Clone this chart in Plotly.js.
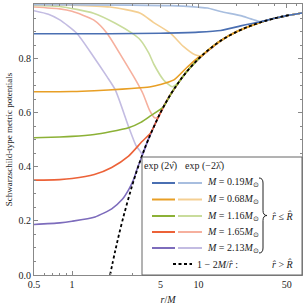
<!DOCTYPE html>
<html><head><meta charset="utf-8">
<script src="https://cdn.plot.ly/plotly-3.0.1.min.js"></script>
<style>body{margin:0;background:#fff}#g{width:305px;height:307px}</style>
</head><body><div id="g"></div>
<script>
// exterior 1 - 2M/r (dashed)
const rExt = [2, 2.2, 2.5, 3, 3.5, 4, 5, 6, 7, 8, 10, 12, 15, 20, 25, 30, 40, 52];
const vExt = [0, 0.091, 0.2, 0.333, 0.429, 0.5, 0.6, 0.667, 0.714, 0.75, 0.8, 0.833, 0.867, 0.9, 0.92, 0.933, 0.95, 0.962];

const masses = ["0.19", "0.68", "1.16", "1.65", "2.13"];

// exp(2nu) curves
const rNuBlue = [0.5, 1, 2, 5, 10, 15, 21.6, 26, 31, 40, 50, 66];
const vNuBlue = [0.893, 0.893, 0.893, 0.895, 0.899, 0.905, 0.922, 0.93, 0.937, 0.95, 0.96, 0.97];
const rNuOrange = [0.5, 1, 1.5, 2.5, 3.5, 4.2, 5, 6.4, 8.1, 9.8, 10.5, 12, 15, 20, 30, 40, 50, 66];
const vNuOrange = [0.678, 0.679, 0.682, 0.688, 0.693, 0.697, 0.705, 0.722, 0.768, 0.803, 0.81, 0.833, 0.867, 0.9, 0.933, 0.95, 0.96, 0.97];
const rNuGreen = [0.5, 0.8, 1, 1.5, 2, 2.8, 3.5, 4.2, 5.3, 6, 7, 8, 10, 12, 15, 20, 30, 40, 50, 66];
const vNuGreen = [0.508, 0.511, 0.513, 0.52, 0.53, 0.545, 0.565, 0.59, 0.623, 0.667, 0.714, 0.75, 0.8, 0.833, 0.867, 0.9, 0.933, 0.95, 0.96, 0.97];
const rNuRed = [0.5, 0.8, 1, 1.5, 2.06, 2.8, 3.58, 4.17, 4.4, 5, 6, 8, 10, 15, 20, 30, 40, 50, 66];
const vNuRed = [0.351, 0.353, 0.357, 0.372, 0.398, 0.44, 0.494, 0.525, 0.545, 0.6, 0.667, 0.75, 0.8, 0.867, 0.9, 0.933, 0.95, 0.96, 0.97];
const rNuPurple = [0.5, 0.8, 1, 1.52, 2.06, 2.5, 2.8, 3.05, 3.26, 3.47, 4, 5, 6, 8, 10, 15, 20, 30, 40, 50, 66];
const vNuPurple = [0.187, 0.193, 0.199, 0.215, 0.245, 0.28, 0.315, 0.35, 0.39, 0.424, 0.5, 0.6, 0.667, 0.75, 0.8, 0.867, 0.9, 0.933, 0.95, 0.96, 0.97];

// exp(-2lambda) curves
const rLaBlue = [0.5, 3, 6, 10, 11.8, 15, 21.6, 26, 31, 40, 50, 66];
const vLaBlue = [1.0, 0.999, 0.997, 0.991, 0.988, 0.975, 0.96, 0.948, 0.938, 0.95, 0.96, 0.97];
const rLaOrange = [0.5, 1, 2, 3.47, 4.4, 6, 7.6, 9.4, 10.5, 12, 15, 20, 30, 40, 50, 66];
const vLaOrange = [1.0, 0.999, 0.992, 0.969, 0.935, 0.895, 0.846, 0.815, 0.812, 0.833, 0.867, 0.9, 0.933, 0.95, 0.96, 0.97];
const rLaGreen = [0.5, 0.8, 1.48, 2.2, 2.98, 3.47, 4.05, 4.44, 5.3, 6.2, 7, 8, 10, 12, 15, 20, 30, 40, 50, 66];
const vLaGreen = [0.998, 0.994, 0.969, 0.932, 0.895, 0.87, 0.821, 0.78, 0.722, 0.697, 0.714, 0.75, 0.8, 0.833, 0.867, 0.9, 0.933, 0.95, 0.96, 0.97];
const rLaRed = [0.5, 0.8, 1, 1.48, 1.89, 2.56, 3.2, 3.65, 4.1, 4.5, 4.8, 5.2, 5.6, 6, 8, 10, 15, 20, 30, 40, 50, 66];
const vLaRed = [0.992, 0.985, 0.976, 0.944, 0.895, 0.796, 0.72, 0.67, 0.61, 0.582, 0.585, 0.615, 0.643, 0.667, 0.75, 0.8, 0.867, 0.9, 0.933, 0.95, 0.96, 0.97];
const rLaPurple = [0.5, 0.65, 0.8, 1.09, 1.48, 1.89, 2.2, 2.8, 3.2, 3.47, 3.6, 4, 5, 6, 8, 10, 15, 20, 30, 40, 50, 66];
const vLaPurple = [0.978, 0.965, 0.944, 0.895, 0.808, 0.734, 0.685, 0.549, 0.48, 0.457, 0.445, 0.5, 0.6, 0.667, 0.75, 0.8, 0.867, 0.9, 0.933, 0.95, 0.96, 0.97];

const xTickVals = [0.5, 1, 5, 10, 50];
const xTickText = ["0.5", "1", "5", "10", "50"];
const xMinorVals = [0.6, 0.7, 0.8, 0.9, 2, 3, 4, 6, 7, 8, 9, 20, 30, 40, 60];
const yTickVals = [0, 0.2, 0.4, 0.6, 0.8, 1.0];
const yTickText = ["0.0", "0.2", "0.4", "0.6", "0.8", "1.0"];

const dark = ["#4a6fb2", "#e89f25", "#8cb136", "#ec6238", "#7d6cbc"];
const light = ["#a8bedf", "#f4cf92", "#c9dc9c", "#f6b09e", "#c3bce2"];

const nu = [[rNuBlue, vNuBlue], [rNuOrange, vNuOrange], [rNuGreen, vNuGreen], [rNuRed, vNuRed], [rNuPurple, vNuPurple]];
const la = [[rLaBlue, vLaBlue], [rLaOrange, vLaOrange], [rLaGreen, vLaGreen], [rLaRed, vLaRed], [rLaPurple, vLaPurple]];

const traces = [];
for (let i = 4; i >= 0; i--) {
  traces.push({x: la[i][0], y: la[i][1], mode: "lines", line: {color: light[i], width: 1.6, shape: "spline", smoothing: 0.6}, showlegend: false, hoverinfo: "skip"});
  traces.push({x: nu[i][0], y: nu[i][1], mode: "lines", line: {color: dark[i], width: 1.6, shape: "spline", smoothing: 0.6}, showlegend: false, hoverinfo: "skip"});
}
traces.push({x: rExt, y: vExt, mode: "lines", line: {color: "#000", width: 1.8, dash: "3px,2.5px", shape: "spline"}, showlegend: false, hoverinfo: "skip"});

// pixel -> paper helpers for the hand-made legend
const L = 34, R = 302, T = 4, B = 275;
const X = p => (p - L) / (R - L);
const Y = p => (B - p) / (B - T);

const serif = "Liberation Serif, Times New Roman, serif";
const fs = 10;
const shapes = [];
const ann = [];
function label(px, py, text) {
  ann.push({xref: "paper", yref: "paper", x: X(px), y: Y(py), text: text, showarrow: false, xanchor: "left", yanchor: "middle",
    font: {family: serif, size: fs, color: "#222"}, width: null, bgcolor: "rgba(0,0,0,0)", borderpad: 0});
}
shapes.push({type: "rect", xref: "paper", yref: "paper", x0: X(142), x1: X(302), y0: Y(275), y1: Y(157), line: {color: "#666", width: 1}, fillcolor: "#fff", layer: "above"});
label(143, 166, "exp (2ν̂)");
label(184, 166, "exp (−2λ̂)");
const rowY = [183, 199.5, 216, 232, 248];
for (let i = 0; i < 5; i++) {
  shapes.push({type: "line", xref: "paper", yref: "paper", x0: X(152), x1: X(175), y0: Y(rowY[i]), y1: Y(rowY[i]), line: {color: dark[i], width: 2}});
  shapes.push({type: "line", xref: "paper", yref: "paper", x0: X(178), x1: X(202), y0: Y(rowY[i]), y1: Y(rowY[i]), line: {color: light[i], width: 2}});
  label(206, rowY[i], "<i>M</i> = " + masses[i] + "<i>M</i><sub>⊙</sub>");
}
// brace
const bx = 259, by0 = 178, by1 = 253, bm = (by0 + by1) / 2;
const bpath = `M ${X(bx)} ${Y(by0)} Q ${X(bx + 4)} ${Y(by0)} ${X(bx + 4)} ${Y(by0 + 5)} L ${X(bx + 4)} ${Y(bm - 5)} Q ${X(bx + 4)} ${Y(bm)} ${X(bx + 8)} ${Y(bm)} Q ${X(bx + 4)} ${Y(bm)} ${X(bx + 4)} ${Y(bm + 5)} L ${X(bx + 4)} ${Y(by1 - 5)} Q ${X(bx + 4)} ${Y(by1)} ${X(bx)} ${Y(by1)}`;
shapes.push({type: "path", xref: "paper", yref: "paper", path: bpath, line: {color: "#222", width: 1}});
label(271, 216, "<i>r̂</i> ≤ <i>R̂</i>");
shapes.push({type: "line", xref: "paper", yref: "paper", x0: X(173), x1: X(192), y0: Y(264), y1: Y(264), line: {color: "#000", width: 1.8, dash: "3px,2.5px"}});
label(196, 264, "1 − 2<i>M</i>/<i>r̂</i> :");
label(271, 264, "<i>r̂</i> > <i>R̂</i>");

const axisCommon = {showline: true, linecolor: "#888", linewidth: 1, mirror: "allticks", ticks: "inside", tickcolor: "#888", ticklen: 4, showgrid: false, zeroline: false,
  tickfont: {family: serif, size: 10, color: "#222"}};

const layout = {
  width: 305, height: 307,
  margin: {l: L, r: 305 - R, t: T, b: 307 - B},
  paper_bgcolor: "#fff", plot_bgcolor: "#fff",
  showlegend: false,
  xaxis: Object.assign({}, axisCommon, {type: "log", range: [Math.log10(0.5), Math.log10(66)], tickmode: "array", tickvals: xTickVals, ticktext: xTickText,
    minor: {tickmode: "array", tickvals: xMinorVals, ticks: "inside", ticklen: 2, tickcolor: "#888"},
    title: {text: "<i>r</i>/<i>M</i>", font: {family: serif, size: 10, color: "#222"}, standoff: 6}}),
  yaxis: Object.assign({}, axisCommon, {range: [0, 1.003], tickmode: "array", tickvals: yTickVals, ticktext: yTickText,
    minor: {dtick: 0.05, ticks: "inside", ticklen: 2, tickcolor: "#888"},
    title: {text: "Schwarzschild-type metric potentials", font: {family: serif, size: 9, color: "#222"}, standoff: 4}}),
  shapes: shapes,
  annotations: ann
};

Plotly.newPlot("g", traces, layout, {displayModeBar: false});
</script>
</body></html>
